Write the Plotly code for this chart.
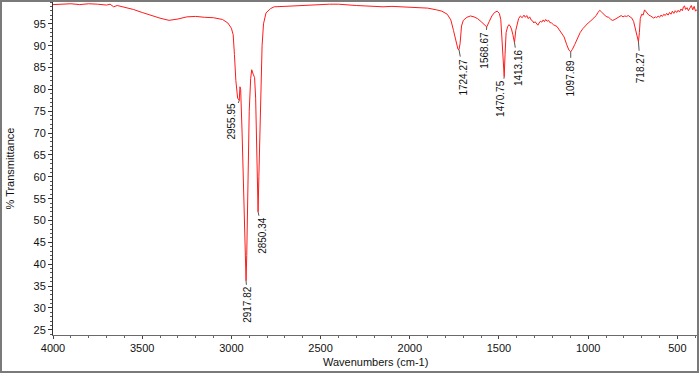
import plotly.graph_objects as go

# ---------------- data ----------------
wavenumber = [
    4000, 3950, 3900, 3850, 3800, 3750, 3700, 3680, 3660, 3640, 3600, 3550, 3500, 3450, 3400,
    3350, 3300, 3250, 3200, 3150, 3100, 3050, 3020, 3000, 2990, 2983, 2975, 2965, 2955.95,
    2952, 2948, 2940, 2930, 2922, 2917.82, 2914, 2908, 2900, 2892, 2886, 2878, 2870, 2864,
    2858, 2853, 2850.34, 2846, 2840, 2834, 2828, 2820, 2806, 2780, 2760, 2700, 2650, 2600,
    2550, 2500, 2450, 2400, 2350, 2300, 2250, 2200, 2150, 2100, 2050, 2000, 1950, 1900,
    1850, 1820, 1790, 1770, 1755, 1740, 1730, 1724.27, 1718, 1710, 1700, 1680, 1660, 1640,
    1620, 1600, 1580, 1568.67, 1555, 1540, 1525, 1510, 1498, 1490, 1484, 1478, 1470.75,
    1466, 1460, 1452, 1445, 1438, 1430, 1422, 1413.16, 1406, 1398, 1390, 1380, 1370, 1360,
    1352, 1344, 1336, 1328, 1320, 1312, 1305, 1298, 1290, 1282, 1275, 1268, 1260, 1252,
    1245, 1238, 1230, 1222, 1215, 1205, 1195, 1185, 1175, 1165, 1150, 1135, 1120, 1108,
    1097.89, 1088, 1075, 1060, 1045, 1030, 1015, 1000, 985, 970, 955, 945, 935, 925, 915,
    905, 895, 885, 875, 865, 855, 845, 835, 825, 815, 805, 795, 785, 775, 765, 755, 745,
    735, 725, 718.27, 713, 708, 700, 692, 684, 676, 668, 660, 650, 640, 632, 624, 616, 608,
    600, 592, 584, 576, 568, 560, 552, 544, 536, 528, 520, 512, 504, 496, 488, 480, 472,
    466, 460, 454, 446, 438, 430, 422, 414, 406, 398, 390,
]
transmittance = [
    99.4, 99.5, 99.6, 99.4, 99.6, 99.5, 99.3, 99.5, 98.9, 99.2, 98.8, 98.3, 97.6, 96.9, 96.3,
    95.8, 96.1, 96.6, 96.7, 96.5, 96.4, 96.0, 95.2, 94.0, 92.5, 88.0, 82.0, 78.0, 77.5,
    80.6, 80.0, 70.0, 55.0, 42.0, 36.2, 42.0, 60.0, 75.0, 82.5, 84.5, 83.5, 82.7, 78.0,
    65.0, 55.0, 52.0, 60.0, 72.0, 80.0, 90.0, 95.0, 97.5, 98.5, 98.9, 99.0, 99.1, 99.3,
    99.3, 99.4, 99.5, 99.5, 99.3, 99.2, 99.1, 99.0, 98.9, 99.0, 98.9, 98.8, 98.8, 98.6,
    98.2, 97.9, 97.2, 95.9, 93.5, 90.5, 89.2, 89.1, 90.5, 94.5, 95.8, 96.5, 96.8, 96.6,
    96.2, 95.5, 94.6, 94.3, 95.5, 96.8, 97.6, 97.9, 97.4, 96.0, 92.0, 87.0, 82.9,
    88.0, 93.0, 94.3, 94.8, 94.6, 93.8, 92.5, 90.7, 93.5, 95.2, 96.2, 96.8, 96.4, 97.0,
    96.5, 96.9, 96.2, 96.6, 95.9, 95.7, 95.2, 95.5, 95.0, 94.7, 95.2, 95.6, 95.4, 95.9,
    95.5, 96.0, 95.6, 95.8, 95.3, 95.2, 94.8, 94.6, 94.4, 93.8, 93.0, 92.0, 90.2, 89.0,
    88.6, 89.2, 90.3, 91.8, 93.0, 93.9, 94.6, 95.2, 95.7, 96.2, 96.9, 97.6, 98.1, 97.7, 97.2,
    96.9, 96.6, 96.5, 96.1, 95.8, 95.9, 96.2, 96.5, 96.7, 96.9, 96.6, 96.8, 96.7, 96.9, 96.6, 96.3, 95.5,
    93.5, 91.5, 90.9, 93.0, 96.2, 97.2, 97.0, 98.2, 97.8, 97.2, 97.0, 96.8, 96.5, 96.3, 96.6, 96.4, 96.8,
    96.5, 97.0, 96.7, 97.2, 96.9, 97.4, 97.0, 97.6, 97.2, 97.9, 97.4, 98.0, 97.6, 98.1, 97.7, 98.4, 98.0,
    98.9, 99.1, 98.3, 98.7, 98.0, 98.8, 99.2, 98.2, 99.0, 97.9, 98.3,
]

peak_wn = [2955.95, 2917.82, 2850.34, 1724.27, 1568.67, 1470.75, 1413.16, 1097.89, 718.27]
peak_t = [77.5, 36.2, 52.0, 89.1, 94.3, 82.9, 90.7, 88.6, 90.9]

x_tick_vals = [4000, 3500, 3000, 2500, 2000, 1500, 1000, 500]
y_tick_vals = [25, 30, 35, 40, 45, 50, 55, 60, 65, 70, 75, 80, 85, 90, 95]

# ---------------- style ----------------
W, H = 699, 373
ML, MR, MT, MB = 53, 2, 2, 38
PW, PH = W - ML - MR, H - MT - MB
FONT = "Liberation Sans, Arial, sans-serif"

# label offsets (pixels) for each peak annotation: (dx, dy)
label_offsets = [(-8, 21), (2, 24), (5, 24), (5, 27), (-2, 23), (-3, 22), (4, 25), (0, 26), (2, 26)]

fig = go.Figure()
fig.add_trace(go.Scatter(
    x=wavenumber, y=transmittance, mode="lines",
    line=dict(color="#ff1a1a", width=1), hoverinfo="skip",
))

annotations = []
for wn, t, (dx, dy) in zip(peak_wn, peak_t, label_offsets):
    annotations.append(dict(
        x=wn, y=t, xref="x", yref="y", text=f"{wn:.2f}", textangle=-90,
        showarrow=True, arrowhead=0, arrowwidth=1, arrowcolor="#555555",
        ax=dx, ay=dy, standoff=0, startstandoff=0,
        font=dict(family=FONT, size=10, color="#111111"),
    ))

# axis titles
annotations.append(dict(
    x=0.5, y=-(362 - (MT + PH)) / PH, xref="paper", yref="paper",
    text="Wavenumbers (cm-1)", showarrow=False, xanchor="center", yanchor="middle",
    font=dict(family=FONT, size=11, color="#111111"),
))
annotations.append(dict(
    x=-(ML - 9) / PW, y=0.5, xref="paper", yref="paper",
    text="% Transmittance", textangle=-90, showarrow=False, xanchor="center", yanchor="middle",
    font=dict(family=FONT, size=11, color="#111111"),
))


def px_to_paper_x(p):
    return (p - ML) / PW


def px_to_paper_y(p):
    return (MT + PH - p) / PH


shapes = [dict(
    type="rect", xref="paper", yref="paper",
    x0=px_to_paper_x(1), x1=px_to_paper_x(698), y0=px_to_paper_y(372), y1=px_to_paper_y(1),
    line=dict(color="#7a7a7a", width=2), fillcolor="rgba(0,0,0,0)", layer="above",
)]

fig.update_layout(
    width=W, height=H,
    margin=dict(l=ML, r=MR, t=MT, b=MB),
    paper_bgcolor="white", plot_bgcolor="white",
    showlegend=False,
    annotations=annotations,
    shapes=shapes,
    xaxis=dict(
        range=[4000, 390], tickvals=x_tick_vals, ticktext=[str(v) for v in x_tick_vals],
        showgrid=False, zeroline=False,
        showline=True, linecolor="#6a6a6a", linewidth=1,
        ticks="outside", ticklen=3, tickcolor="#444444", tickwidth=1,
        minor=dict(dtick=100, tick0=0, ticks="outside", ticklen=2, tickcolor="#666666", showgrid=False),
        tickfont=dict(family=FONT, size=11, color="#111111"),
        fixedrange=True,
    ),
    yaxis=dict(
        range=[23.8, 100], tickvals=y_tick_vals, ticktext=[str(v) for v in y_tick_vals],
        showgrid=False, zeroline=False,
        showline=True, linecolor="#333333", linewidth=1,
        ticks="outside", ticklen=4, tickcolor="#333333", tickwidth=1,
        minor=dict(dtick=1, tick0=0, ticks="outside", ticklen=2, tickcolor="#555555", showgrid=False),
        tickfont=dict(family=FONT, size=11, color="#111111"),
        fixedrange=True,
    ),
)

fig.write_html(
    "out.html",
    config={"displayModeBar": False},
    post_script="document.body.style.margin='0';document.body.style.padding='0';",
)
